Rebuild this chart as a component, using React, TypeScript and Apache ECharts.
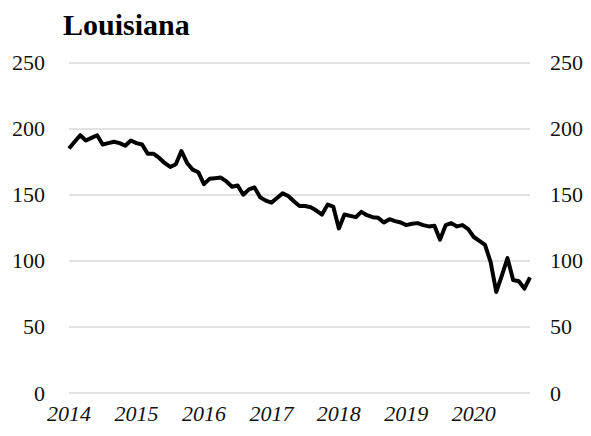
import React, { useEffect, useRef } from "react";
import * as echarts from "echarts";

const titleText = "Louisiana";
const years = ["2014", "2015", "2016", "2017", "2018", "2019", "2020"];
const monthNums = ["01", "02", "03", "04", "05", "06", "07", "08", "09", "10", "11", "12"];
const monthCount = 83; // Jan 2014 - Nov 2020
const values = [
  185, 190, 195, 191, 193, 195, 188, 189, 190, 189, 187, 191,
  189, 188, 181, 181, 178, 174, 171, 173, 183, 174, 169, 167,
  158, 162, 162.5, 163, 160, 156, 157, 150, 154, 155.5, 148, 145.5,
  144, 147.5, 151, 149, 145, 141.5, 141.5, 140.5, 138, 135, 142.5, 141,
  124.5, 135, 134, 133, 137, 134.5, 133, 132.5, 129, 131.5, 130, 129,
  127, 128, 128.5, 127, 126, 126.5, 116, 127, 128.5, 126, 127, 124,
  118, 115, 112, 99, 76.5, 89, 102, 85.5, 84.5, 79, 87.5,
];
const yTicks = [0, 50, 100, 150, 200, 250];

const categories: string[] = [];
years.forEach((y) => monthNums.forEach((m) => categories.push(`${y}-${m}`)));
const cats = categories.slice(0, monthCount);

export default function App() {
  const ref = useRef<HTMLDivElement>(null);
  useEffect(() => {
    if (!ref.current) return;
    const chart = echarts.init(ref.current, undefined, { renderer: "svg" });
    const labelFont = {
      fontFamily: "'Liberation Serif', serif",
      fontSize: 22,
      color: "#111",
    };
    const yAxisBase = {
      type: "value" as const,
      min: yTicks[0],
      max: yTicks[yTicks.length - 1],
      interval: 50,
      axisLine: { show: false },
      axisTick: { show: false },
    };
    chart.setOption({
      animation: false,
      backgroundColor: "#fff",
      title: {
        text: titleText,
        left: 58,
        top: 4,
        textStyle: {
          fontFamily: "'Liberation Serif', serif",
          fontWeight: "bold",
          fontSize: 30,
          color: "#000",
        },
      },
      grid: { left: 69, right: 61, top: 62.5, bottom: 43 },
      xAxis: {
        type: "category",
        data: cats,
        boundaryGap: false,
        axisLine: { show: false },
        axisTick: { show: false },
        splitLine: { show: false },
        axisLabel: {
          ...labelFont,
          fontStyle: "italic",
          interval: 11,
          margin: 9,
          formatter: (v: string) => v.slice(0, 4),
        },
      },
      yAxis: [
        {
          ...yAxisBase,
          position: "left",
          splitLine: { show: true, lineStyle: { color: "#d9d9d9", width: 1.5 } },
          axisLabel: { ...labelFont, margin: 24 },
        },
        {
          ...yAxisBase,
          position: "right",
          splitLine: { show: false },
          axisLabel: { ...labelFont, margin: 20 },
        },
      ],
      series: [
        {
          type: "line",
          data: values,
          yAxisIndex: 0,
          showSymbol: false,
          symbol: "none",
          lineStyle: { color: "#000", width: 4, join: "round" },
        },
      ],
    });
    return () => chart.dispose();
  }, []);
  return (
    <div
      ref={ref}
      style={{ position: "absolute", left: 0, top: 0, width: 591, height: 436 }}
    />
  );
}
